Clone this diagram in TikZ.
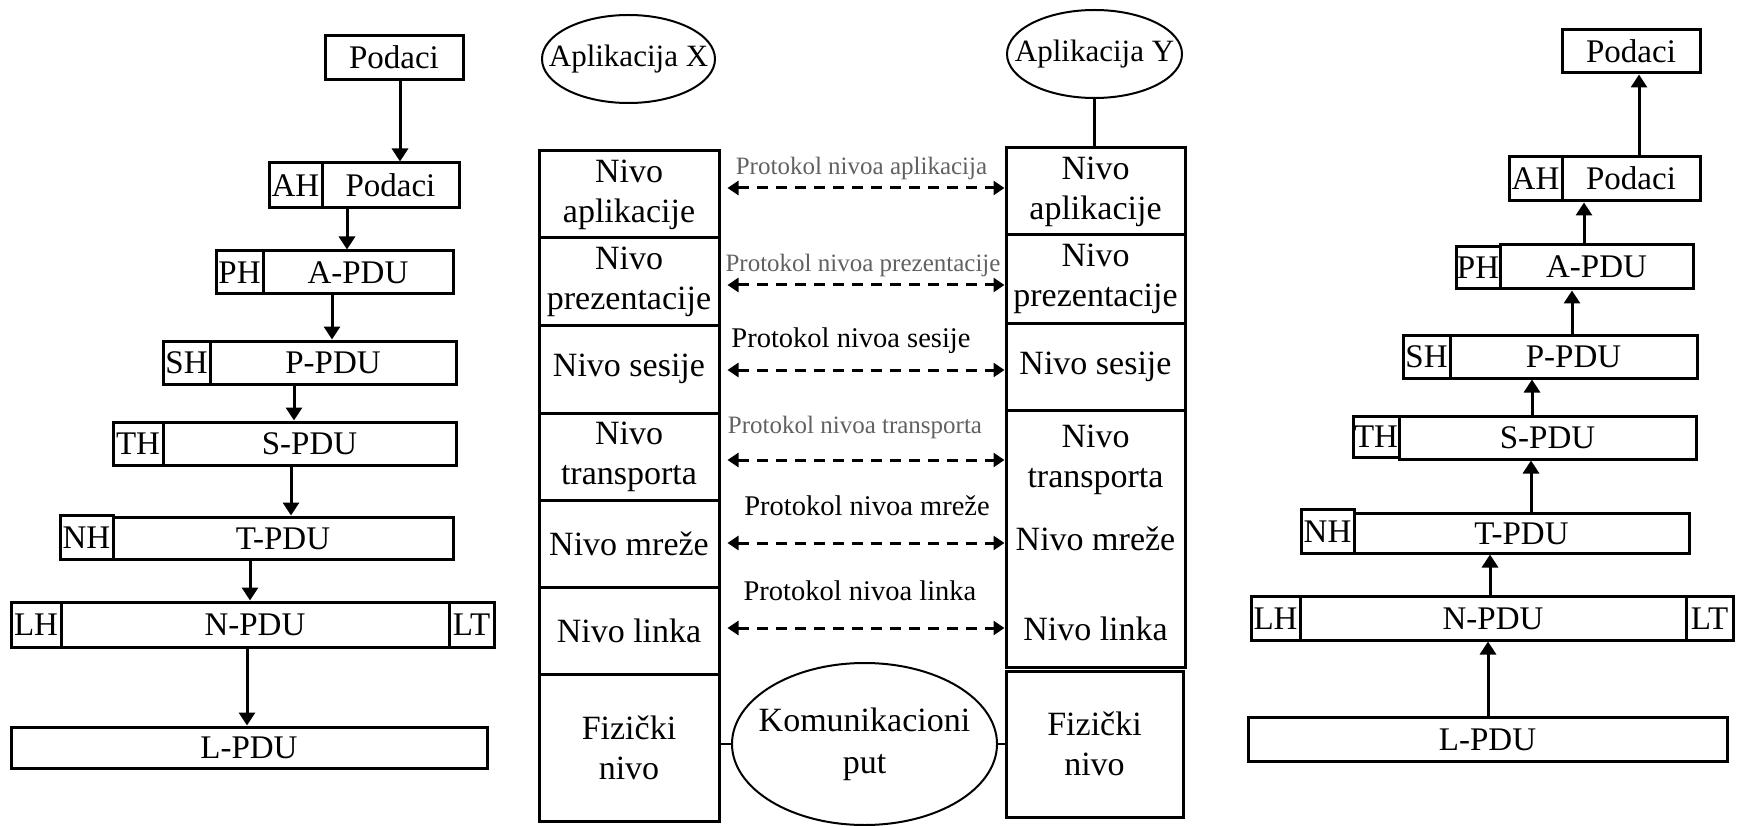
\documentclass[tikz,border=0pt]{standalone}
\usepackage{fontspec}
\setmainfont{Liberation Serif}
\usetikzlibrary{arrows.meta,shapes.geometric}
\definecolor{protogray}{gray}{0.38}

\begin{document}
\begin{tikzpicture}[x=1pt,y=-1pt,
  pdu/.style={draw, rectangle, line width=3pt, inner sep=0pt,
    font=\fontsize{33}{38}\selectfont, text height=23pt, text depth=1pt},
  layer/.style={draw, rectangle, line width=3pt, inner sep=0pt,
    minimum width=180pt, align=center,
    font=\fontsize{34}{40}\selectfont},
  layertext/.style={inner sep=0pt, align=center,
    font=\fontsize{34}{40}\selectfont},
  oval/.style={draw, ellipse, line width=2pt, inner xsep=-25pt,
    inner ysep=0pt, align=center},
  flow/.style={line width=3pt, -{Triangle[width=16pt,length=13pt]}},
  peer/.style={line width=3pt, dash pattern=on 11pt off 8pt,
    {Triangle[width=14pt,length=11pt]}-{Triangle[width=14pt,length=11pt]}},
  link/.style={line width=2.5pt},
  protobig/.style={anchor=base, inner sep=0pt,
    font=\fontsize{28.5}{34}\selectfont},
  protosmall/.style={anchor=base, inner sep=0pt, text=protogray,
    font=\fontsize{25}{30}\selectfont},
]
\useasboundingbox (0,0) rectangle (1740,826);

% ---------- sender: encapsulation going down ----------
\node[pdu, minimum width=138pt, minimum height=44pt] (p0)  at (394,58)    {Podaci};
\node[pdu, minimum width=53pt,  minimum height=45pt] (ah1) at (295.5,185.5) {AH};
\node[pdu, minimum width=137pt, minimum height=45pt] (d1)  at (390.5,185.5) {Podaci};
\node[pdu, minimum width=47pt,  minimum height=43pt] (ph1) at (239.5,272.5) {PH};
\node[pdu, minimum width=190pt, minimum height=43pt] (a1)  at (358,272.5)   {A-PDU};
\node[pdu, minimum width=47pt,  minimum height=43pt] (sh1) at (186.5,362.5) {SH};
\node[pdu, minimum width=246pt, minimum height=43pt] (pp1) at (333,362.5)   {P-PDU};
\node[pdu, minimum width=50pt,  minimum height=43pt] (th1) at (138,443.5)   {TH};
\node[pdu, minimum width=293pt, minimum height=43pt] (s1)  at (309.5,443.5) {S-PDU};
\node[pdu, minimum width=53pt,  minimum height=44pt] (nh1) at (86.5,537)    {NH};
\node[pdu, minimum width=340pt, minimum height=42pt] (t1)  at (283,538)     {T-PDU};
\node[pdu, minimum width=50pt,  minimum height=45pt] (lh1) at (36,624.5)    {LH};
\node[pdu, minimum width=388pt, minimum height=45pt] (n1)  at (255,624.5)   {N-PDU};
\node[pdu, minimum width=45pt,  minimum height=45pt] (lt1) at (471.5,624.5) {LT};
\node[pdu, minimum width=476pt, minimum height=41pt] (l1)  at (249,747.5)   {L-PDU};

\coordinate (xs1) at (400,0);
\coordinate (xs2) at (347,0);
\coordinate (xs3) at (332,0);
\coordinate (xs4) at (294,0);
\coordinate (xs5) at (291,0);
\coordinate (xs6) at (250,0);
\coordinate (xs7) at (247,0);
\draw[flow] (p0.south -| xs1) -- (d1.north -| xs1);
\draw[flow] (d1.south -| xs2) -- (a1.north -| xs2);
\draw[flow] (a1.south -| xs3) -- (pp1.north -| xs3);
\draw[flow] (pp1.south -| xs4) -- (s1.north -| xs4);
\draw[flow] (s1.south -| xs5) -- (t1.north -| xs5);
\draw[flow] (t1.south -| xs6) -- (n1.north -| xs6);
\draw[flow] (n1.south -| xs7) -- (l1.north -| xs7);

% ---------- receiver: decapsulation going up ----------
\node[pdu, minimum width=138pt, minimum height=43pt] (p2)  at (1631,51.5)   {Podaci};
\node[pdu, minimum width=53pt,  minimum height=44pt] (ah2) at (1535.5,179)  {AH};
\node[pdu, minimum width=138pt, minimum height=44pt] (d2)  at (1631,179)    {Podaci};
\node[pdu, minimum width=44pt,  minimum height=42pt] (ph2) at (1478,268)    {PH};
\node[pdu, minimum width=193pt, minimum height=44pt] (a2)  at (1596.5,267)  {A-PDU};
\node[pdu, minimum width=47pt,  minimum height=43pt] (sh2) at (1426.5,356.5) {SH};
\node[pdu, minimum width=247pt, minimum height=43pt] (pp2) at (1573.5,356.5) {P-PDU};
\node[pdu, minimum width=46pt,  minimum height=41pt] (th2) at (1376,436.5)  {TH};
\node[pdu, minimum width=297pt, minimum height=43pt] (s2)  at (1547.5,437.5) {S-PDU};
\node[pdu, minimum width=53pt,  minimum height=44pt] (nh2) at (1327.5,531)  {NH};
\node[pdu, minimum width=335pt, minimum height=40pt] (t2)  at (1521.5,533)  {T-PDU};
\node[pdu, minimum width=49pt,  minimum height=44pt] (lh2) at (1275.5,618)  {LH};
\node[pdu, minimum width=386pt, minimum height=44pt] (n2)  at (1493,618)    {N-PDU};
\node[pdu, minimum width=47pt,  minimum height=44pt] (lt2) at (1709.5,618)  {LT};
\node[pdu, minimum width=479pt, minimum height=44pt] (l2)  at (1487.5,739)  {L-PDU};

\coordinate (xr1) at (1639,0);
\coordinate (xr2) at (1584,0);
\coordinate (xr3) at (1572,0);
\coordinate (xr4) at (1532,0);
\coordinate (xr5) at (1531,0);
\coordinate (xr6) at (1490,0);
\coordinate (xr7) at (1488,0);
\draw[flow] (d2.north -| xr1) -- (p2.south -| xr1);
\draw[flow] (a2.north -| xr2) -- (d2.south -| xr2);
\draw[flow] (pp2.north -| xr3) -- (a2.south -| xr3);
\draw[flow] (s2.north -| xr4) -- (pp2.south -| xr4);
\draw[flow] (t2.north -| xr5) -- (s2.south -| xr5);
\draw[flow] (n2.north -| xr6) -- (t2.south -| xr6);
\draw[flow] (l2.north -| xr7) -- (n2.south -| xr7);

% ---------- OSI layer stacks ----------
\node[oval, minimum width=173pt, minimum height=88pt,
  font=\fontsize{31}{36}\selectfont] (ax) at (628.5,59) {Aplikacija X};
\node[oval, minimum width=175pt, minimum height=88pt,
  font=\fontsize{31}{36}\selectfont] (ay) at (1094.5,54) {Aplikacija Y};

\node[layer, minimum height=87pt]  (la1) at (629,194.5) {Nivo\\aplikacije};
\node[layer, minimum height=87pt]  (la2) at (629,281.5) {Nivo\\prezentacije};
\node[layer, minimum height=88pt]  (la3) at (629,369)   {Nivo sesije};
\node[layer, minimum height=87pt]  (la4) at (629,456.5) {Nivo\\transporta};
\node[layer, minimum height=87pt]  (la5) at (629,543.5) {Nivo mreže};
\node[layer, minimum height=87pt]  (la6) at (629,630.5) {Nivo linka};
\node[layer, minimum height=147pt] (la7) at (629,747.5) {Fizički\\nivo};

\node[layer, minimum width=179pt, minimum height=87pt]  (ra1) at (1095.5,191.5) {Nivo\\aplikacije};
\node[layer, minimum width=179pt, minimum height=88pt]  (ra2) at (1095.5,279)   {Nivo\\prezentacije};
\node[layer, minimum width=179pt, minimum height=87pt]  (ra3) at (1095.5,366.5) {Nivo sesije};
\node[layer, minimum width=179pt, minimum height=257pt] (rbig) at (1095.5,538.5) {};
\node[layertext] (rt) at (1095.5,459.5) {Nivo\\transporta};
\node[layertext] (rm) at (1095.5,538.5) {Nivo mreže};
\node[layertext] (rl) at (1095.5,628.5) {Nivo linka};
\node[layer, minimum width=177pt, minimum height=146pt] (rf) at (1094.5,744) {Fizički\\nivo};

\node[oval, minimum width=265pt, minimum height=162pt,
  font=\fontsize{34}{42}\selectfont] (kp) at (864.5,744) {Komunikacioni\\put};

\draw[link] (ay.south) -- (ay.south |- ra1.north);
\draw[link] (la7.east |- kp.west) -- (kp.west);
\draw[link] (kp.east) -- (rf.west |- kp.east);

% ---------- peer protocols ----------
\coordinate (yp1) at (0,188);
\coordinate (yp2) at (0,285);
\coordinate (yp3) at (0,370);
\coordinate (yp4) at (0,460);
\coordinate (yp5) at (0,543);
\coordinate (yp6) at (0,628);
\draw[peer, shorten <=7pt] (la1.east |- yp1) -- (ra1.west |- yp1);
\draw[peer, shorten <=7pt] (la2.east |- yp2) -- (ra2.west |- yp2);
\draw[peer, shorten <=7pt] (la3.east |- yp3) -- (ra3.west |- yp3);
\draw[peer, shorten <=7pt] (la4.east |- yp4) -- (rbig.west |- yp4);
\draw[peer, shorten <=7pt] (la5.east |- yp5) -- (rbig.west |- yp5);
\draw[peer, shorten <=7pt] (la6.east |- yp6) -- (rbig.west |- yp6);

\node[protosmall] (pr1) at (861.5,175) {Protokol nivoa aplikacija};
\node[protosmall] (pr2) at (863,272)   {Protokol nivoa prezentacije};
\node[protobig]   (pr3) at (851,348)   {Protokol nivoa sesije};
\node[protosmall] (pr4) at (855,433)   {Protokol nivoa transporta};
\node[protobig]   (pr5) at (867,515)   {Protokol nivoa mreže};
\node[protobig]   (pr6) at (860,600)   {Protokol nivoa linka};

\end{tikzpicture}
\end{document}
